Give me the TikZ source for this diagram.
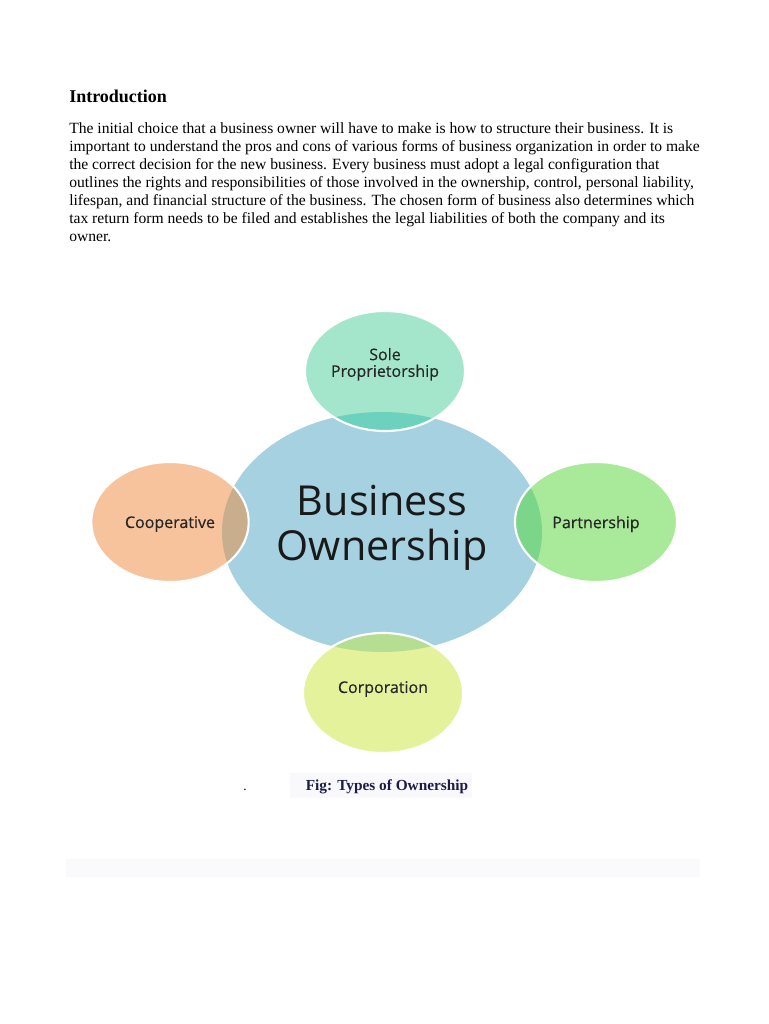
\documentclass[tikz,border=0pt]{standalone}
\usepackage{fontspec}
\setmainfont{Liberation Serif}
\newfontfamily\diagfont{Open Sans}
\newfontfamily\leaffont[FakeBold=0.4]{Open Sans}
\usetikzlibrary{shapes.geometric}
\definecolor{hubblue}{HTML}{A6D1E1}
\definecolor{solefill}{HTML}{A3E6CB}
\definecolor{soleover}{HTML}{6CD2BD}
\definecolor{coopfill}{HTML}{F6C39D}
\definecolor{coopover}{HTML}{C8AE8C}
\definecolor{partfill}{HTML}{A8EA99}
\definecolor{partover}{HTML}{7CD68A}
\definecolor{corpfill}{HTML}{E5F29C}
\definecolor{corpover}{HTML}{B5DE93}
\definecolor{capnavy}{HTML}{1C1C4A}
\definecolor{capshade}{HTML}{F9F9FD}
\definecolor{stripshade}{HTML}{FAFAFD}
\tikzset{
  hub/.style={
    ellipse, fill=hubblue, inner sep=0pt, minimum width=240pt, minimum height=180pt
  },
  hubtext/.style={
    inner sep=0pt, align=center, text=black!90, font=\diagfont\fontsize{31}{34}\selectfont
  },
  leaf/.style={
    ellipse, fill=#1, inner sep=0pt, minimum height=90pt
  },
  leaftext/.style={
    inner sep=0pt, align=center, text=black!85, font=\leaffont\fontsize{12}{12.5}\selectfont
  },
  rim/.style={draw=white, line width=1.6pt},
  para/.style={anchor=north west, inner sep=0pt, align=left, font=\fontsize{11.7}{13.5}\selectfont}
}

\begin{document}
\begin{tikzpicture}[x=0.75pt, y=-0.75pt]
  \useasboundingbox (0,0) rectangle (768,1024);
  \fill[white] (0,0) rectangle (768,1024);

  % heading and paragraph
  \node[anchor=base west, inner sep=0pt, font=\bfseries\fontsize{13.5}{16}\selectfont] (title) at (69,103) {Introduction};
  \node[para] (intro) at (69,122) {The initial choice that a business owner will have to make is how to structure their business. It is\\
    important to understand the pros and cons of various forms of business organization in order to make\\
    the correct decision for the new business. Every business must adopt a legal configuration that\\
    outlines the rights and responsibilities of those involved in the ownership, control, personal liability,\\
    lifespan, and financial structure of the business. The chosen form of business also determines which\\
    tax return form needs to be filed and establishes the legal liabilities of both the company and its\\
    owner.};

  % diagram
  \node[hub] (hub) at (382,532) {};
  \node[hubtext] (hub-t) at ([yshift=3pt]hub.center) {Business\\Ownership};
  \foreach \nm/\x/\y/\rx/\dy/\c/\o/\t in {
    sole/385/371/60/5/solefill/soleover/{Sole\\Proprietorship},
    coop/170/522/59/-1.5/coopfill/coopover/{Cooperative},
    part/596/522/60.75/-1.5/partfill/partover/{Partnership},
    corp/383/693/60/3/corpfill/corpover/{Corporation}} {
    \node[leaf=\c, minimum width={2*\rx pt}] (\nm) at (\x,\y) {};
    \begin{scope}
      \clip (hub.center) ellipse [x radius=120pt, y radius=90pt];
      \fill[\o] (\nm.center) ellipse [x radius=\rx pt, y radius=45pt];
    \end{scope}
    \draw[rim] (\nm.center) ellipse [x radius=\rx pt, y radius=45pt];
    \node[leaftext] (\nm-t) at ([yshift=\dy pt]\nm.center) {\t};
  }

  % caption
  \fill[capshade] (290,773) rectangle (472,798);
  \node[anchor=base, inner sep=0pt] (dot) at (245,790) {.};
  \node[anchor=base, inner sep=0pt, text=capnavy, font=\bfseries\fontsize{11.5}{14}\selectfont] (cap) at (387,790) {Fig: Types of Ownership};
  \fill[stripshade] (66,859) rectangle (700,877);
\end{tikzpicture}
\end{document}
